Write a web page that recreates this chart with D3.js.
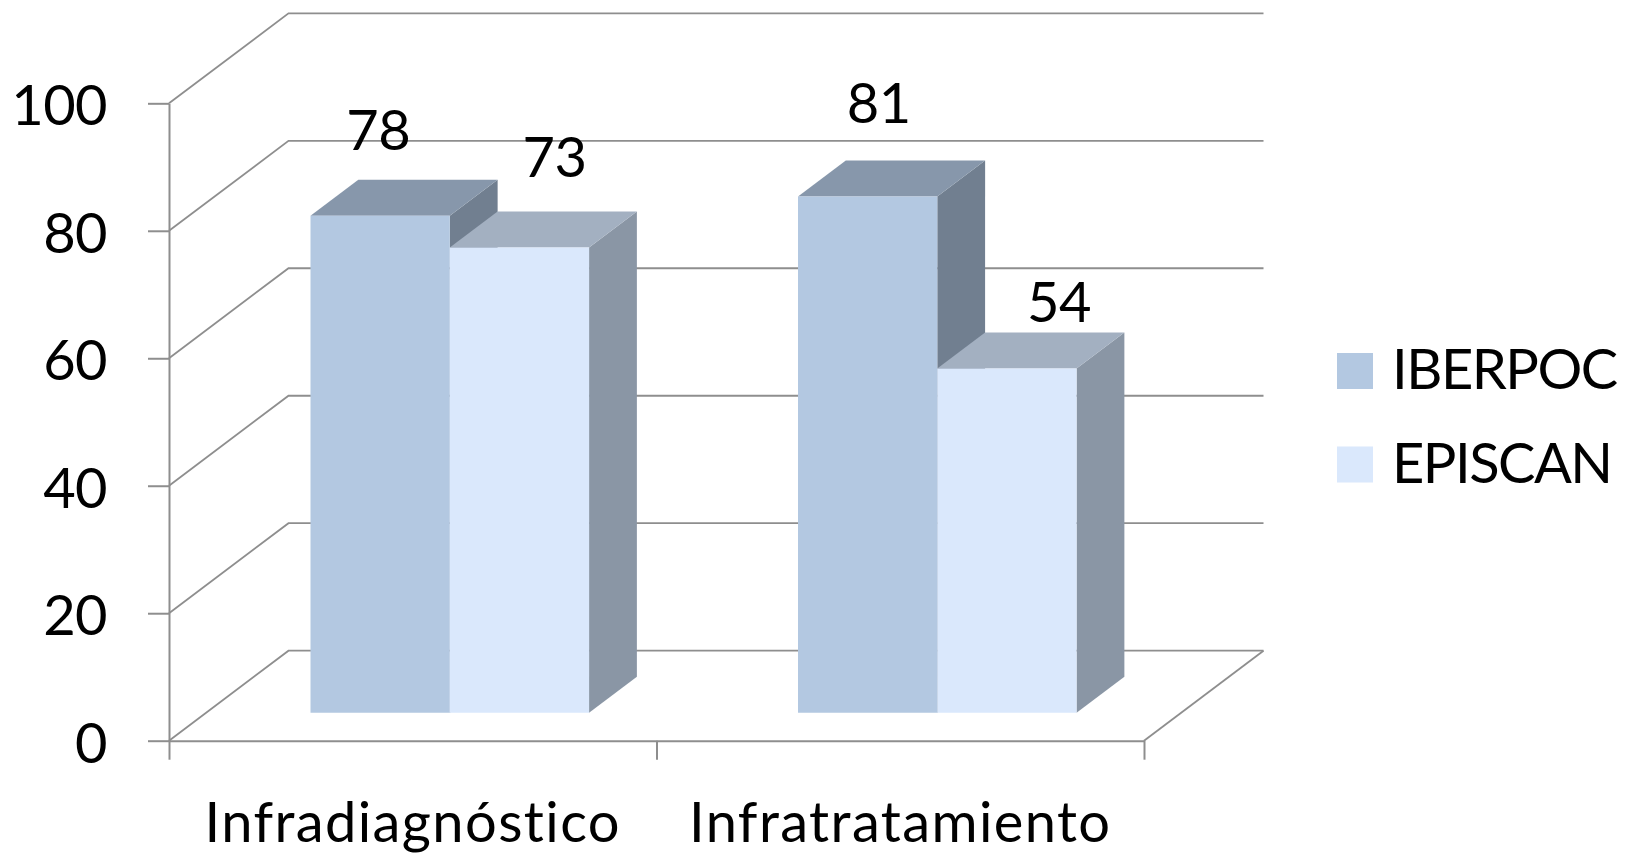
<!DOCTYPE html>
<html>
<head>
<meta charset="utf-8">
<script src="https://cdn.jsdelivr.net/npm/d3@7"></script>
<style>
  html, body { margin: 0; padding: 0; background: #fff; }
  svg { display: block; }
  text { font-family: Lato, "Open Sans", sans-serif; fill: #000; font-variant-ligatures: none; }
</style>
</head>
<body>
<svg id="chart" width="1626" height="853"></svg>
<script>
// Data
const categories = ["Infradiagnóstico", "Infratratamiento"];
const seriesNames = ["IBERPOC", "EPISCAN"];
const iberpocValues = [78, 81];
const episcanValues = [73, 54];
const yTicks = [0, 20, 40, 60, 80, 100];

// Face colours per series: front, top, side
const palette = {
  IBERPOC: { front: "#b3c8e1", top: "#8797ab", side: "#717f90" },
  EPISCAN: { front: "#dae8fc", top: "#a3b0c1", side: "#8a96a5" }
};

// Label nudges (px) from the centre of each bar's front top edge
const labelNudge = {
  IBERPOC: [[-2, -66], [11, -74]],
  EPISCAN: [[35, -70], [52, -47]]
};

const seriesValues = { IBERPOC: iberpocValues, EPISCAN: episcanValues };

// Geometry of the 3D box
const plot = { left: 169, right: 1144, top: 103.3, bottom: 740.7 };
const DX = 119.5, DY = 90;            // full depth offset of the back wall
const barZ0 = 0.31, barZ1 = 0.71;     // bar depth range (fraction of full depth)
const gridColor = "#8e8e8e";

const svg = d3.select("#chart");

const y = d3.scaleLinear().domain([0, 100]).range([plot.bottom, plot.top]);
const x0 = d3.scaleBand().domain(categories).range([plot.left, plot.right]).padding(0);
const x1 = d3.scaleBand().domain(seriesNames).range([0, x0.bandwidth()])
  .paddingInner(0).paddingOuter(0.75);

// project a front-plane point to depth z (0 = front, 1 = back wall)
const proj = (px, py, z) => [px + z * DX, py - z * DY];

// Walls: back-wall gridlines and left-wall diagonals
const walls = svg.append("g").attr("stroke", gridColor).attr("stroke-width", 1.8).attr("fill", "none");
yTicks.forEach(v => {
  const a = [plot.left, y(v)];
  const b = proj(plot.left, y(v), 1);
  const c = proj(plot.right, y(v), 1);
  walls.append("path").attr("d", d3.line()([a, b, c]));
});
// Floor right edge
walls.append("path").attr("d", d3.line()([[plot.right, y(0)], proj(plot.right, y(0), 1)]));

// Y axis
const yAxis = d3.axisLeft(y).tickValues(yTicks).tickSize(21).tickSizeOuter(0).tickPadding(41);
const gy = svg.append("g").attr("transform", `translate(${plot.left},0)`).call(yAxis);
gy.selectAll("path, line").attr("stroke", gridColor).attr("stroke-width", 2);
gy.selectAll("text").attr("font-size", 56).attr("dy", null).attr("y", 21.5)
  .attr("font-family", "Lato, sans-serif").attr("fill", "#000").attr("letter-spacing", -0.6);

// Category axis: floor front edge + boundary ticks
const bx = d3.scaleLinear().domain([0, categories.length]).range([plot.left, plot.right]);
const xAxis = d3.axisBottom(bx).tickValues(d3.range(categories.length + 1))
  .tickSize(19).tickSizeOuter(0).tickFormat("");
const gx = svg.append("g").attr("transform", `translate(0,${y(0)})`).call(xAxis);
gx.selectAll("path, line").attr("stroke", gridColor).attr("stroke-width", 2);

svg.append("g").selectAll("text").data(categories).join("text")
  .attr("x", d => x0(d) + x0.bandwidth() / 2)
  .attr("y", 842)
  .attr("text-anchor", "middle")
  .attr("font-size", 56)
  .attr("letter-spacing", 1.4)
  .text(d => d);

// Bars
const bars = svg.append("g");
const labels = svg.append("g");
categories.forEach((cat, ci) => {
  seriesNames.forEach(s => {
    const v = seriesValues[s][ci];
    const col = palette[s];
    const xl = x0(cat) + x1(s);
    const xr = xl + x1.bandwidth();
    const yt = y(v), yb = y(0);
    const fl_t = proj(xl, yt, barZ0), fr_t = proj(xr, yt, barZ0);
    const fr_b = proj(xr, yb, barZ0), fl_b = proj(xl, yb, barZ0);
    const bl_t = proj(xl, yt, barZ1), br_t = proj(xr, yt, barZ1);
    const br_b = proj(xr, yb, barZ1);
    const poly = pts => d3.line()(pts) + "Z";
    bars.append("path").attr("d", poly([fr_t, br_t, br_b, fr_b])).attr("fill", col.side);
    bars.append("path").attr("d", poly([fl_t, fr_t, br_t, bl_t])).attr("fill", col.top);
    bars.append("path").attr("d", poly([fl_t, fr_t, fr_b, fl_b])).attr("fill", col.front);

    const n = labelNudge[s][ci];
    labels.append("text")
      .attr("x", (fl_t[0] + fr_t[0]) / 2 + n[0])
      .attr("y", fl_t[1] + n[1])
      .attr("text-anchor", "middle")
      .attr("font-size", 56)
      .attr("letter-spacing", -0.6)
      .text(v);
  });
});

// Legend
const legend = svg.append("g");
seriesNames.forEach((s, i) => {
  const top = 353 + i * 93.5;
  legend.append("rect").attr("x", 1337).attr("y", top).attr("width", 36).attr("height", 36)
    .attr("fill", palette[s].front);
  legend.append("text").attr("x", 1392).attr("y", top + 36).attr("font-size", 56)
    .attr("letter-spacing", -1.5).text(s);
});
</script>
</body>
</html>
